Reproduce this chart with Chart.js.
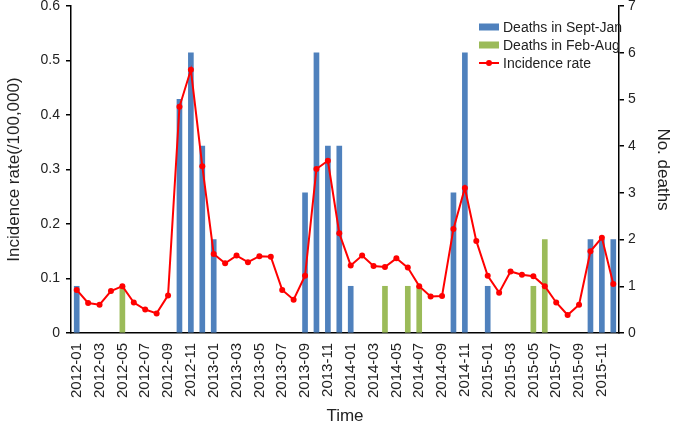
<!DOCTYPE html>
<html><head><meta charset="utf-8">
<script src="https://cdn.jsdelivr.net/npm/chart.js@4/dist/chart.umd.min.js"></script>
<style>html,body{margin:0;padding:0;background:#fff}#wrap{width:673px;height:427px}</style>
</head><body><div id="wrap"><canvas id="c" width="673" height="427"></canvas></div>
<script>
const months = [];
for (let y = 2012; y <= 2015; y++) for (let m = 1; m <= 12; m++) months.push(y + '-' + String(m).padStart(2, '0'));
const incidence = [0.079,0.055,0.052,0.077,0.086,0.056,0.043,0.036,0.069,0.415,0.483,0.306,
  0.145,0.128,0.142,0.130,0.141,0.140,0.079,0.061,0.105,0.301,0.316,0.183,
  0.124,0.142,0.123,0.121,0.137,0.120,0.086,0.067,0.068,0.191,0.266,0.169,
  0.105,0.074,0.113,0.107,0.104,0.086,0.056,0.033,0.052,0.150,0.175,0.090];
const deathsSeptJan = [1,0,0,0,0,0,0,0,0,5,6,4,
  2,0,0,0,0,0,0,0,3,6,4,4,
  1,0,0,0,0,0,0,0,0,3,6,0,
  1,0,0,0,0,0,0,0,0,2,2,2];
const deathsFebAug = [0,0,0,0,1,0,0,0,0,0,0,0,
  0,0,0,0,0,0,0,0,0,0,0,0,
  0,0,0,1,0,1,1,0,0,0,0,0,
  0,0,0,0,1,2,0,0,0,0,0,0];
const leftTicks = [0,0.1,0.2,0.3,0.4,0.5,0.6];
const rightTicks = [0,1,2,3,4,5,6,7];

const FONT = '"Liberation Sans", Arial, sans-serif';
const legendPlugin = {
  id: 'customLegend',
  afterDraw(chart) {
    const ctx = chart.ctx;
    const ds = chart.data.datasets;
    const order = [1, 2, 0];
    const x0 = 479, y0 = 27, dy = 18;
    ctx.save();
    ctx.font = '14px ' + FONT;
    ctx.textBaseline = 'middle';
    order.forEach((idx, i) => {
      const d = ds[idx];
      const y = y0 + i * dy;
      if (d.type === 'line') {
        ctx.strokeStyle = d.borderColor; ctx.lineWidth = 2;
        ctx.beginPath(); ctx.moveTo(x0, y); ctx.lineTo(x0 + 20, y); ctx.stroke();
        ctx.fillStyle = d.borderColor;
        ctx.beginPath(); ctx.arc(x0 + 10, y, 3, 0, Math.PI * 2); ctx.fill();
      } else {
        ctx.fillStyle = d.backgroundColor;
        ctx.fillRect(x0, y - 3.5, 20, 7);
      }
      ctx.fillStyle = '#222';
      ctx.fillText(d.label, x0 + 24, y + 1);
    });
    ctx.restore();
  }
};
const nz = arr => arr.map(v => (v === 0 ? null : v));

new Chart(document.getElementById('c'), {
  data: {
    labels: months,
    datasets: [
      { type: 'line', label: 'Incidence rate', data: incidence, yAxisID: 'y',
        borderColor: '#ff0000', backgroundColor: '#ff0000', borderWidth: 2,
        pointRadius: 3, pointBackgroundColor: '#ff0000', pointBorderWidth: 0, tension: 0, order: 0 },
      { type: 'bar', label: 'Deaths in Sept-Jan', data: nz(deathsSeptJan), yAxisID: 'y1',
        backgroundColor: '#4f81bd', barThickness: 5, grouped: false, order: 1 },
      { type: 'bar', label: 'Deaths in Feb-Aug', data: nz(deathsFebAug), yAxisID: 'y1',
        backgroundColor: '#9bbb59', barThickness: 5, grouped: false, order: 2 }
    ]
  },
  options: {
    responsive: false,
    animation: false,
    layout: { padding: { top: 6, left: 0, right: 0, bottom: 0 } },
    plugins: { legend: { display: false }, tooltip: { enabled: false } },
    scales: {
      x: {
        grid: { display: false },
        border: { display: true, color: '#000', width: 1.5 },
        ticks: {
          autoSkip: false, maxRotation: 90, minRotation: 90, padding: 2,
          color: '#222', font: { size: 15, family: FONT },
          callback: function (v, i) { return i % 2 === 0 ? months[i] : ''; }
        },
        title: { display: true, text: 'Time', color: '#222', font: { size: 17, family: FONT }, padding: { top: 4, bottom: 0 } },
        afterFit(s) { s.height = 94; s.paddingLeft = 0; s.paddingRight = 0; }
      },
      y: {
        position: 'left', min: 0, max: 0.6,
        afterBuildTicks(s) { s.ticks = leftTicks.map(v => ({ value: v })); },
        grid: { drawOnChartArea: false, drawTicks: true, tickLength: 5, color: '#000', lineWidth: 1.5 },
        border: { display: true, color: '#000', width: 1.5 },
        ticks: { color: '#222', padding: 6, font: { size: 14, family: FONT },
          callback: v => String(v) },
        title: { display: true, text: 'Incidence rate(/100,000)', color: '#222', font: { size: 17, family: FONT }, padding: { top: 4, bottom: 0 } },
        afterFit(s) { s.width = 71; s.paddingTop = 0; s.paddingBottom = 0; }
      },
      y1: {
        position: 'right', min: 0, max: 7,
        afterBuildTicks(s) { s.ticks = rightTicks.map(v => ({ value: v })); },
        grid: { drawOnChartArea: false, drawTicks: true, tickLength: 5, color: '#000', lineWidth: 1.5 },
        border: { display: true, color: '#000', width: 1.5 },
        ticks: { color: '#222', padding: 4, font: { size: 14, family: FONT } },
        title: { display: true, text: 'No. deaths', color: '#222', font: { size: 17, family: FONT }, padding: { top: 0, bottom: 4 } },
        afterFit(s) { s.width = 54; s.paddingTop = 0; s.paddingBottom = 0; }
      }
    }
  },
  plugins: [legendPlugin]
});
</script></body></html>
